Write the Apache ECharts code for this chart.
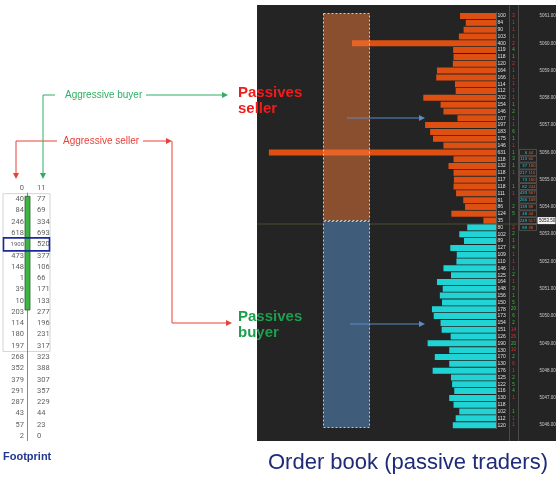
<!DOCTYPE html>
<html><head><meta charset="utf-8">
<script src="https://cdn.jsdelivr.net/npm/echarts@6/dist/echarts.min.js"></script>
<style>html,body{margin:0;padding:0;background:#fff}#c{width:560px;height:480px}</style>
</head><body><div id="c"></div>
<script>
// Order book: resting sell orders (top, orange) and buy orders (bottom, teal)
const askSizes = [100, 84, 90, 103, 400, 119, 118, 120, 164, 166, 114, 112, 202, 154, 146, 107, 197, 183, 175, 146, 631, 118, 132, 118, 117, 118, 111, 91, 86, 124, 35];
const bidSizes = [80, 102, 89, 127, 109, 110, 146, 125, 164, 148, 156, 150, 178, 173, 154, 151, 126, 190, 130, 170, 130, 176, 125, 122, 116, 130, 118, 102, 112, 120];
const prices = ['5061.00','5060.75','5060.50','5060.25','5060.00','5059.75','5059.50','5059.25','5059.00','5058.75','5058.50','5058.25','5058.00','5057.75','5057.50','5057.25','5057.00','5056.75','5056.50','5056.25','5056.00','5055.75','5055.50','5055.25','5055.00','5054.75','5054.50','5054.25','5054.00','5053.75','5053.50','5053.25','5053.00','5052.75','5052.50','5052.25','5052.00','5051.75','5051.50','5051.25','5051.00','5050.75','5050.50','5050.25','5050.00','5049.75','5049.50','5049.25','5049.00','5048.75','5048.50','5048.25','5048.00','5047.75','5047.50','5047.25','5047.00','5046.75','5046.50','5046.25','5046.00'];
const lastPrice = '5053.50';
// small per-price change column (positive green, negative red)
const deltaCol = [-3,-1,-1,-1,-2,4,1,-2,-1,-1,-1,-1,-1,1,2,-1,-1,6,1,-1,1,3,1,-1,null,1,-1,null,2,5,null,
                  -2,2,1,4,-1,-1,-1,2,-1,3,1,5,20,6,2,-14,-26,20,-10,2,-6,-1,2,5,4,-1,null,1,-1,-1];
// traded volume boxes (bid x ask) near the last price
const tradeFrom = '5056.00';
const tradedBid = [6,113,37,217,73,82,433,266,139,48,249,89];
const tradedAsk = [44,60,180,110,180,244,567,168,88,44,517,38];
// Footprint
const fpSell = ['0','40','84','246','618','1900','473','148','1','39','10','203','114','180','197','268','352','379','291','287','43','57','2'];
const fpBuy  = ['11','77','69','334','693','520','377','106','66','171','133','277','196','231','317','323','388','307','357','229','44','23','0'];

const chart = echarts.init(document.getElementById('c'), null, {renderer:'canvas'});
const nAsk = askSizes.length;
const askData = prices.map((p,i)=> i < nAsk ? askSizes[i] : null);
const bidData = prices.map((p,i)=> i >= nAsk ? bidSizes[i-nAsk] : null);
const fpRows = fpSell.map((v,i)=>String(i));

const FP = {top:182.4, row:11.27};
const option = {
  animation:false,
  backgroundColor:'#ffffff',
  grid:[
    {left:257, right:64, top:12.6, height:416},
    {left:3, width:47, top:FP.top, height:FP.row*fpSell.length}
  ],
  xAxis:[
    {gridIndex:0, type:'value', inverse:true, min:0, max:664, show:false},
    {gridIndex:1, type:'value', min:0, max:47, show:false}
  ],
  yAxis:[
    {gridIndex:0, type:'category', data:prices, inverse:true, position:'right', offset:41,
     axisLine:{lineStyle:{color:'#5a5a5a'}},
     axisTick:{interval:3, alignWithLabel:true, length:2.5, lineStyle:{color:'#999'}},
     axisLabel:{interval:3, fontSize:4.5, color:'#c8c8c8', margin:2.5, fontFamily:'Liberation Sans'}},
    {gridIndex:1, type:'category', data:fpRows, inverse:true, show:false}
  ],
  series:[
    {type:'bar', xAxisIndex:0, yAxisIndex:0, data:askData, barWidth:6, barGap:'-100%',
     itemStyle:{color:'#de4f12'},
     label:{show:true, position:'right', distance:1.5, fontSize:5, color:'#e0e0e0', fontFamily:'Liberation Sans'}},
    {type:'bar', xAxisIndex:0, yAxisIndex:0, data:bidData, barWidth:6, barGap:'-100%',
     itemStyle:{color:'#20d4d6'},
     label:{show:true, position:'right', distance:1.5, fontSize:5, color:'#e0e0e0', fontFamily:'Liberation Sans'}},
    {type:'scatter', xAxisIndex:1, yAxisIndex:1, symbolSize:0, data:fpSell.map((v,i)=>({value:[21,i,v], label:v==='1900'?{fontSize:6}:{}})),
     label:{show:true, position:'left', distance:0, formatter:p=>p.value[2], fontSize:7.5, color:'#333', fontFamily:'Roboto'}},
    {type:'scatter', xAxisIndex:1, yAxisIndex:1, symbolSize:0, data:fpBuy.map((v,i)=>[34,i,v]),
     label:{show:true, position:'right', distance:0, formatter:p=>p.value[2], fontSize:7.5, color:'#333', fontFamily:'Roboto'}}
  ]
};
chart.setOption(option);

const rowY = p => chart.convertToPixel({yAxisIndex:0}, p);
const fpY = i => chart.convertToPixel({yAxisIndex:1}, String(i));
const P = {x:257, y:5, w:299, h:436};
const G = [];
const FONT = 'Liberation Sans, Arial, sans-serif';
const T = (txt,x,y,o)=>G.push({type:'text', z:40, style:Object.assign({text:txt,x:x,y:y,textVerticalAlign:'middle',fontFamily:FONT},o)});
// dark panel
G.push({type:'rect', z:-10, shape:{x:P.x,y:P.y,width:P.w,height:P.h}, style:{fill:'#242424'}});
G.push({type:'line', z:-9, shape:{x1:509.5,y1:P.y,x2:509.5,y2:P.y+P.h}, style:{stroke:'#4a4a4a',lineWidth:1}});
G.push({type:'line', z:-9, shape:{x1:518.5,y1:P.y,x2:518.5,y2:P.y+P.h}, style:{stroke:'#4a4a4a',lineWidth:1}});
const sepY = (rowY(prices[nAsk-1]) + rowY(prices[nAsk]))/2;
G.push({type:'line', z:-9, shape:{x1:P.x,y1:sepY,x2:537,y2:sepY}, style:{stroke:'#4d4d2c',lineWidth:1}});
// delta column
deltaCol.forEach((d,i)=>{ if(d===null) return;
  T(String(Math.abs(d)), 513.5, rowY(prices[i]), {fontSize:4.5, fill:d>0?'#3cc03c':'#d43a3a', textAlign:'center'});
});
// traded volume boxes
const i0 = prices.indexOf(tradeFrom);
tradedBid.forEach((b,k)=>{
  const y = rowY(prices[i0+k]);
  G.push({type:'rect', z:5, shape:{x:519.5,y:y-3,width:17,height:6}, style:{fill:'none',stroke:'#6a6a6a',lineWidth:0.6}});
  T(String(b), 527, y, {fontSize:4.2, fill:'#2ccfd2', textAlign:'right'});
  T(String(tradedAsk[k]), 528.5, y, {fontSize:4.2, fill:'#e0602a', textAlign:'left'});
});
// highlighted last price
const lpY = rowY(lastPrice);
G.push({type:'rect', z:30, shape:{x:537.5,y:lpY-3.5,width:18,height:7}, style:{fill:'#f2f2f2'}});
T(lastPrice, 539, lpY, {fontSize:4.5, fill:'#111'});
// overlay rectangles
G.push({type:'rect', z:20, shape:{x:323.5,y:13.5,width:46,height:207}, style:{fill:'rgba(240,122,58,0.5)',stroke:'#cfcfcf',lineDash:[2,2],lineWidth:1}});
G.push({type:'rect', z:20, shape:{x:323.5,y:221.5,width:46,height:206}, style:{fill:'#3f5d7a',stroke:'#d8d840',lineDash:[2,2],lineWidth:1}});
function arrowR(x1,x2,y,col){
  G.push({type:'line', z:30, shape:{x1:x1,y1:y,x2:x2-5,y2:y}, style:{stroke:col,lineWidth:1}});
  G.push({type:'polygon', z:30, shape:{points:[[x2-6,y-3],[x2,y],[x2-6,y+3]]}, style:{fill:col}});
}
function arrowD(x,y1,y2,col){
  G.push({type:'line', z:30, shape:{x1:x,y1:y1,x2:x,y2:y2-5}, style:{stroke:col,lineWidth:1}});
  G.push({type:'polygon', z:30, shape:{points:[[x-3,y2-6],[x,y2],[x+3,y2-6]]}, style:{fill:col}});
}
arrowR(347,425,118,'#5b8cc4');
arrowR(350,425,324,'#5b8cc4');
// annotation connectors
const GRN = '#2fae62', RED = '#e8403a';
G.push({type:'polyline', shape:{points:[[55,95],[43,95]]}, style:{stroke:GRN,lineWidth:1}});
arrowD(43,95,179,GRN);
arrowR(146,228,95,GRN);
G.push({type:'polyline', shape:{points:[[57,141],[16,141]]}, style:{stroke:RED,lineWidth:1}});
arrowD(16,141,179,RED);
arrowR(143,172,141,RED);
G.push({type:'polyline', shape:{points:[[172,141],[172,323],[226,323]]}, style:{stroke:RED,lineWidth:1}});
G.push({type:'polygon', shape:{points:[[226,320],[232,323],[226,326]]}, style:{fill:RED}});
T('Aggressive buyer',65,95,{fontSize:10,fill:GRN});
T('Aggressive seller',63,141,{fontSize:10,fill:RED});
T('Passives',238,93,{fontSize:15,fontWeight:'bold',fill:'#f21c1c'});
T('seller',238,109,{fontSize:15,fontWeight:'bold',fill:'#f21c1c'});
T('Passives',238,317,{fontSize:15,fontWeight:'bold',fill:'#1e9e4e'});
T('buyer',238,333,{fontSize:15,fontWeight:'bold',fill:'#1e9e4e'});
T('Footprint',3,457,{fontSize:11,fontWeight:'bold',fill:'#1f3790'});
T('Order book (passive traders)',268,463,{fontSize:22,fill:'#1f2b78'});
// footprint decorations
const fpTop = fpY(1)-FP.row/2, fpBot = fpY(14)+FP.row/2;
G.push({type:'line', z:1, shape:{x1:27.5,y1:fpTop-1,x2:27.5,y2:fpY(22)+5}, style:{stroke:'#888',lineWidth:1}});
G.push({type:'rect', z:0, shape:{x:3,y:fpTop,width:47,height:fpBot-fpTop}, style:{fill:'none',stroke:'#cfd6dc',lineWidth:1}});
G.push({type:'rect', z:2, shape:{x:25,y:fpY(1)-3,width:5,height:fpY(11)-fpY(1)+1}, style:{fill:'#3cb544',stroke:'#2d5a2d',lineWidth:0.8}});
G.push({type:'rect', z:3, shape:{x:3.5,y:fpY(5)-6.5,width:46,height:13}, style:{fill:'none',stroke:'#1c2a9c',lineWidth:1.6}});
chart.setOption({graphic:{elements:G}});
</script></body></html>
